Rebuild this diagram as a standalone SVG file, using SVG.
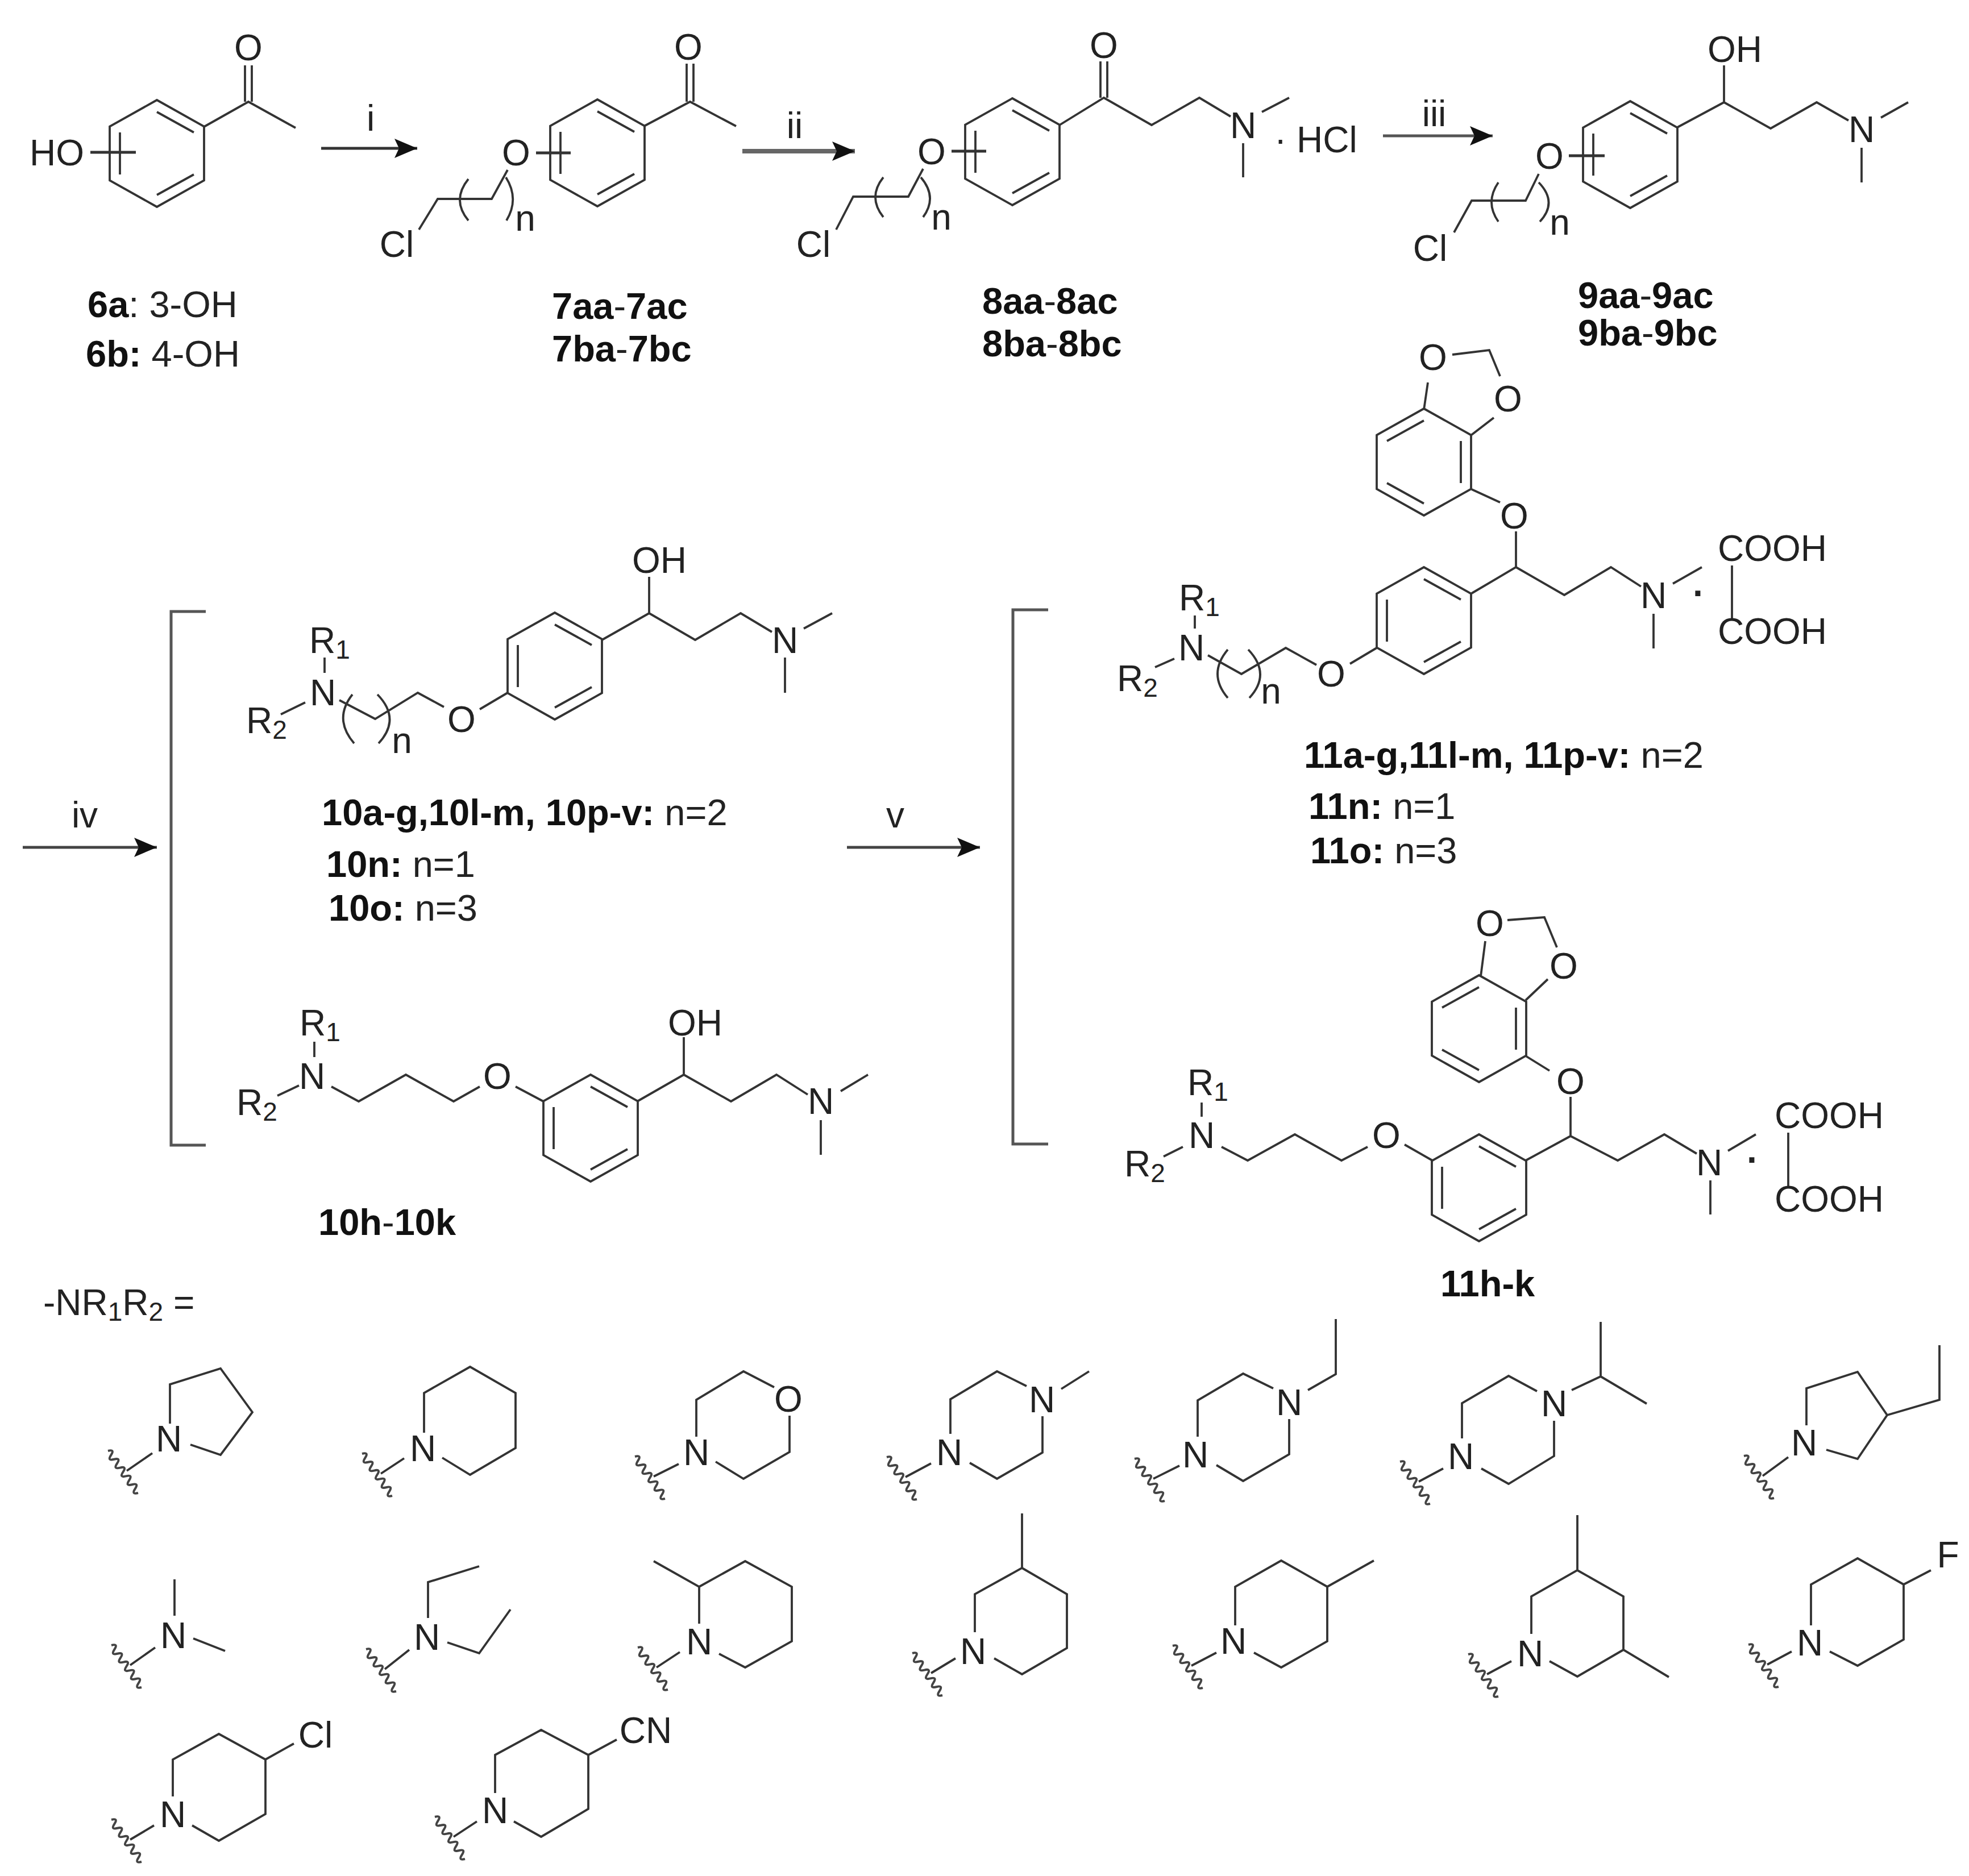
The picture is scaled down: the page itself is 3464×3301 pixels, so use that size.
<svg xmlns="http://www.w3.org/2000/svg" xmlns:xlink="http://www.w3.org/1999/xlink" width="3464" height="3301" viewBox="0 0 3464 3301">
<style>
.b{fill:none;stroke:#333;stroke-width:3.8;stroke-linejoin:miter}
.k{fill:none;stroke:#555;stroke-width:5}
.w{fill:none;stroke:#444;stroke-width:4}
.ar{fill:none;stroke:#333;stroke-width:5}
text{font-family:"Liberation Sans",Arial,sans-serif;font-size:64px;fill:#222}
.a{text-anchor:middle}
.l{font-size:65px}
.s{font-size:46px}
.t{font-weight:bold;fill:#111}
.h{stroke-width:5}
</style>
<defs>
<marker id="head" markerUnits="userSpaceOnUse" markerWidth="42" markerHeight="34" refX="40" refY="17" orient="auto"><path d="M0 0L40 17L0 34L8 17z" fill="#111"/></marker>
<g id="ringA"><path class="b" d="M0-94L83-47.500V47.500L0 94L-83 47.500V-47.500zM-65-37V37M0-73L65-37M65 37L0 73"/></g>
<g id="ringB"><path class="b" d="M0-94L83-47.500V47.500L0 94L-83 47.500V-47.500zM-65-37L0-73M65-37V37M0 73L-65 37"/></g>
<path id="wv" class="w" d="M-33-35q12.400-3.300 5.300 7.400q-7 10.700 5.300 7.400q12.400-3.300 5.300 7.400q-7 10.700 5.300 7.400q12.400-3.300 5.300 7.400q-7 10.700 5.300 7.400q12.400-3.300 5.300 7.400q-7 10.700 5.300 7.400q12.400-3.300 5.300 7.400q-7 10.700 5.300 7.400"/>
</defs>
<rect width="3464" height="3301" fill="#fff"/>

<g id="connectors">
<path class="ar" marker-end="url(#head)" d="M565 261H734"/>
<path class="ar" style="stroke:#666;stroke-width:8" marker-end="url(#head)" d="M1306 266H1504"/>
<path class="ar" style="stroke:#555" marker-end="url(#head)" d="M2433 239H2626"/>
<path class="ar" style="stroke:#444" marker-end="url(#head)" d="M40 1491H276"/>
<path class="ar" style="stroke:#444" marker-end="url(#head)" d="M1490 1491H1724"/>
<text class="a" x="652" y="230">i</text>
<text class="a" x="1398" y="243">ii</text>
<text class="a" x="2523" y="222">iii</text>
<text class="a" x="149" y="1456">iv</text>
<text class="a" x="1575" y="1456">v</text>
</g>

<g id="mol-6">
<use href="#ringA" x="276" y="270"/>
<path class="b" d="M359 223L437 179L520 225M431 115V179M443 115V179"/>
<path class="b h" d="M159 268H239"/>
<text class="a" x="437" y="106">O</text>
<text class="a" x="100" y="291">HO</text>
</g>
<g id="label-6"><text class="l" x="154" y="558"><tspan class="t">6a</tspan>: 3-OH</text><text class="l" x="151" y="645"><tspan class="t">6b:</tspan> 4-OH</text></g>

<g id="mol-7">
<use href="#ringA" x="1051" y="269"/>
<path class="b" d="M1133 222L1214 179L1295 222M1208 112V179M1220 112V179M893 299L865 350H770L737 404M824 315Q794 352 824 388M890 312Q914 350 891 388"/>
<path class="b h" d="M943 269H1004"/>
<text class="a" x="1211" y="105">O</text>
<text class="a" x="908" y="291">O</text>
<text class="a" x="698" y="452">Cl</text>
<text class="a" x="924" y="406">n</text>
</g>
<g id="label-7"><text class="l" x="971" y="561"><tspan class="t">7aa</tspan>-<tspan class="t">7ac</tspan></text><text class="l" x="971" y="636"><tspan class="t">7ba</tspan>-<tspan class="t">7bc</tspan></text></g>

<g id="mol-8">
<use href="#ringA" x="1781" y="267"/>
<path class="b" d="M1864 220L1942 172L2026 220L2110 172L2165 205M1936 108V172M1948 108V172M2220 197L2268 172M2187 252V312M1624 297L1598 346H1501L1471 404M1554 312Q1526 347 1554 382M1620 312Q1650 347 1624 382"/>
<path class="b h" d="M1674 266H1735"/>
<text class="a" x="1942" y="102">O</text>
<text class="a" x="2187" y="243">N</text>
<text x="2242" y="267">·</text>
<text x="2281" y="268">HCl</text>
<text class="a" x="1639" y="289">O</text>
<text class="a" x="1431" y="452">Cl</text>
<text class="a" x="1656" y="404">n</text>
</g>
<g id="label-8"><text class="l" x="1728" y="552"><tspan class="t">8aa</tspan>-<tspan class="t">8ac</tspan></text><text class="l" x="1728" y="627"><tspan class="t">8ba</tspan>-<tspan class="t">8bc</tspan></text></g>

<g id="mol-9">
<use href="#ringA" x="2868" y="272"/>
<path class="b" d="M2951 224L3033 180L3115 226L3196 180L3252 212M3033 115V180M3309 207L3357 180M3275 260V321M2707 306L2684 353H2589L2558 409M2636 321Q2612 356 2636 390M2707 321Q2741 356 2709 390"/>
<path class="b h" d="M2760 274H2823"/>
<text class="a" x="3052" y="109">OH</text>
<text class="a" x="3275" y="250">N</text>
<text class="a" x="2726" y="297">O</text>
<text class="a" x="2516" y="459">Cl</text>
<text class="a" x="2744" y="413">n</text>
</g>
<g id="label-9"><text class="l" x="2776" y="542"><tspan class="t">9aa</tspan>-<tspan class="t">9ac</tspan></text><text class="l" x="2776" y="608"><tspan class="t">9ba</tspan>-<tspan class="t">9bc</tspan></text></g>

<g id="bracket-10"><path class="k" d="M362 1076H301V2015H362"/></g>
<g id="mol-10-para">
<use href="#ringA" x="976" y="1172"/>
<path class="b" d="M1059 1126L1142 1079L1223 1126L1303 1079L1358 1112M1142 1015V1079M1414 1106L1464 1079M1381 1157V1219M893 1219L844 1248M781 1244L735 1219L660 1265L597 1232M571 1157V1184M494 1257L537 1236M620 1222Q586 1265 623 1308M664 1222Q706 1265 666 1308"/>
<text class="a" x="1160" y="1008">OH</text>
<text class="a" x="1381" y="1149">N</text>
<text class="a" x="812" y="1288">O</text>
<text class="a" x="568" y="1241">N</text>
<text class="a" x="580" y="1149">R<tspan class="s" dy="10">1</tspan></text>
<text class="a" x="469" y="1290">R<tspan class="s" dy="10">2</tspan></text>
<text class="a" x="707" y="1325">n</text>
</g>
<g id="label-10"><text class="l" x="566" y="1452"><tspan class="t">10a-g,10l-m, 10p-v:</tspan> n=2</text><text class="l" x="574" y="1543"><tspan class="t">10n:</tspan> n=1</text><text class="l" x="578" y="1620"><tspan class="t">10o:</tspan> n=3</text></g>

<g id="mol-10-meta">
<use href="#ringA" x="1039" y="1985"/>
<path class="b" d="M1121 1938L1203 1891L1286 1938L1366 1891L1421 1926M1203 1825V1891M1479 1920L1527 1891M1444 1971V2032M956 1938L907 1912M844 1912L798 1938L714 1891L631 1938L583 1912M553 1833V1860M488 1928L526 1910"/>
<text class="a" x="1223" y="1822">OH</text>
<text class="a" x="1444" y="1960">N</text>
<text class="a" x="875" y="1916">O</text>
<text class="a" x="549" y="1916">N</text>
<text class="a" x="563" y="1822">R<tspan class="s" dy="10">1</tspan></text>
<text class="a" x="452" y="1962">R<tspan class="s" dy="10">2</tspan></text>
</g>
<g id="label-10h"><text class="l" x="560" y="2173"><tspan class="t">10h</tspan>-<tspan class="t">10k</tspan></text></g>

<g id="bracket-11"><path class="k" d="M1844 1073H1782V2013H1844"/></g>
<g id="mol-11-para">
<use href="#ringB" x="2505" y="813"/>
<use href="#ringA" x="2505" y="1092"/>
<path class="b" d="M2505 721L2512 673M2555 624L2620 616L2639 662M2589 765L2628 735M2589 861L2639 884M2667 935V998L2589 1044M2667 998L2752 1047L2834 998L2887 1032M2943 1027L2994 998M2909 1080V1141M3047 995V1090M2422 1140L2375 1168M2316 1170L2262 1140L2184 1186L2125 1153M2102 1083V1106M2032 1174L2066 1159M2160 1143Q2124 1186 2160 1228M2196 1143Q2237 1186 2198 1228"/>
<text class="a" x="2521" y="651">O</text>
<text class="a" x="2653" y="724">O</text>
<text class="a" x="2664" y="930">O</text>
<text class="a" x="2909" y="1070">N</text>
<text x="2978" y="1066" style="font-weight:bold">·</text>
<text x="3022" y="987">COOH</text>
<text x="3022" y="1133">COOH</text>
<text class="a" x="2342" y="1208">O</text>
<text class="a" x="2096" y="1162">N</text>
<text class="a" x="2110" y="1074">R<tspan class="s" dy="10">1</tspan></text>
<text class="a" x="2001" y="1216">R<tspan class="s" dy="10">2</tspan></text>
<text class="a" x="2236" y="1238">n</text>
</g>
<g id="label-11"><text class="l" x="2294" y="1351"><tspan class="t">11a-g,11l-m, 11p-v:</tspan> n=2</text><text class="l" x="2302" y="1441"><tspan class="t">11n:</tspan> n=1</text><text class="l" x="2305" y="1519"><tspan class="t">11o:</tspan> n=3</text></g>

<g id="mol-11-meta">
<use href="#ringB" x="2602" y="1810"/>
<use href="#ringA" x="2602" y="2090"/>
<path class="b" d="M2605 1718L2613 1656M2652 1619L2717 1614L2739 1667M2684 1760L2723 1723M2684 1858L2726 1884M2763 1930V1999L2684 2042M2763 1999L2846 2042L2928 1996L2985 2030M3040 2025L3089 1996M3009 2077V2137M3146 1993V2088M2520 2042L2471 2014M2406 2018L2360 2042L2278 1996L2195 2042L2149 2018M2114 1940V1965M2047 2035L2081 2018"/>
<text class="a" x="2621" y="1647">O</text>
<text class="a" x="2751" y="1722">O</text>
<text class="a" x="2763" y="1925">O</text>
<text class="a" x="3007" y="2068">N</text>
<text x="3073" y="2063" style="font-weight:bold">·</text>
<text x="3122" y="1985">COOH</text>
<text x="3122" y="2132">COOH</text>
<text class="a" x="2439" y="2020">O</text>
<text class="a" x="2114" y="2020">N</text>
<text class="a" x="2125" y="1927">R<tspan class="s" dy="10">1</tspan></text>
<text class="a" x="2014" y="2070">R<tspan class="s" dy="10">2</tspan></text>
</g>
<g id="label-11h"><text class="l" x="2534" y="2281"><tspan class="t">11h-k</tspan></text></g>

<g id="nr-label"><text x="76" y="2314">-NR<tspan class="s" dy="10">1</tspan><tspan dy="-10">R</tspan><tspan class="s" dy="10">2</tspan><tspan dy="-10"> =</tspan></text></g>

<g id="sub-1"><use href="#wv" x="223" y="2588"/><path class="b" d="M223 2588L268 2557M299 2505V2436L388 2408L444 2485L388 2560L335 2542"/><text class="a" x="297" y="2554">N</text></g>
<g id="sub-2"><use href="#wv" x="670" y="2593"/><path class="b" d="M670 2593L711 2566M746 2521V2451L827 2405L907 2451V2548L827 2595L778 2565"/><text class="a" x="744" y="2571">N</text></g>
<g id="sub-3"><use href="#wv" x="1150" y="2598"/><path class="b" d="M1150 2598L1194 2576M1225 2528V2463L1308 2413L1362 2441M1389 2491V2555L1308 2602L1259 2572"/><text class="a" x="1225" y="2578">N</text><text class="a" x="1387" y="2484">O</text></g>
<g id="sub-4"><use href="#wv" x="1593" y="2599"/><path class="b" d="M1593 2599L1638 2575M1672 2523V2462L1754 2413L1806 2439M1867 2444L1916 2413M1834 2492V2556L1754 2602L1706 2574"/><text class="a" x="1670" y="2578">N</text><text class="a" x="1833" y="2485">N</text></g>
<g id="sub-5"><use href="#wv" x="2029" y="2602"/><path class="b" d="M2029 2602L2075 2579M2107 2528V2464L2187 2417L2240 2443M2301 2446L2350 2418V2321M2268 2497V2559L2187 2606L2140 2578"/><text class="a" x="2103" y="2582">N</text><text class="a" x="2268" y="2490">N</text></g>
<g id="sub-6"><use href="#wv" x="2496" y="2607"/><path class="b" d="M2496 2607L2539 2584M2572 2531V2469L2654 2421L2704 2448M2765 2446L2816 2422V2326M2816 2422L2897 2470M2734 2500V2562L2654 2611L2606 2584"/><text class="a" x="2570" y="2585">N</text><text class="a" x="2734" y="2492">N</text></g>
<g id="sub-7"><use href="#wv" x="3101" y="2597"/><path class="b" d="M3101 2597L3146 2564M3178 2508V2443L3268 2414L3320 2490L3268 2567L3213 2551M3320 2490L3412 2463V2367"/><text class="a" x="3174" y="2561">N</text></g>

<g id="sub-8"><use href="#wv" x="229" y="2930"/><path class="b" d="M229 2930L273 2899M307 2779V2843M340 2883L396 2905"/><text class="a" x="305" y="2900">N</text></g>
<g id="sub-9"><use href="#wv" x="677" y="2937"/><path class="b" d="M677 2937L720 2903M753 2847V2784L843 2756M787 2890L843 2909L898 2832"/><text class="a" x="751" y="2903">N</text></g>
<g id="sub-10"><use href="#wv" x="1155" y="2934"/><path class="b" d="M1155 2934L1196 2907M1230 2857V2792L1150 2747M1230 2792L1311 2747L1393 2792V2888L1311 2934L1265 2910"/><text class="a" x="1230" y="2911">N</text></g>
<g id="sub-11"><use href="#wv" x="1638" y="2944"/><path class="b" d="M1638 2944L1681 2918M1715 2872V2805L1798 2759V2663M1798 2759L1877 2805V2900L1798 2946L1749 2918"/><text class="a" x="1712" y="2928">N</text></g>
<g id="sub-12"><use href="#wv" x="2096" y="2931"/><path class="b" d="M2096 2931L2140 2908M2173 2860V2792L2254 2746L2335 2792L2417 2746M2335 2792V2888L2254 2934L2206 2908"/><text class="a" x="2170" y="2910">N</text></g>
<g id="sub-13"><use href="#wv" x="2616" y="2946"/><path class="b" d="M2616 2946L2659 2923M2694 2875V2809L2775 2763V2666M2775 2763L2856 2809V2903L2936 2951M2856 2903L2775 2950L2726 2923"/><text class="a" x="2692" y="2932">N</text></g>
<g id="sub-14"><use href="#wv" x="3109" y="2929"/><path class="b" d="M3109 2929L3152 2906M3186 2860V2788L3268 2742L3349 2788L3397 2763M3349 2788V2885L3268 2931L3219 2906"/><text class="a" x="3184" y="2913">N</text><text class="a" x="3427" y="2758">F</text></g>
<g id="sub-15"><use href="#wv" x="229" y="3237"/><path class="b" d="M229 3237L271 3212M304 3161V3096L385 3051L467 3096L517 3068M467 3096V3192L385 3239L338 3212"/><text class="a" x="304" y="3215">N</text><text class="a" x="555" y="3075">Cl</text></g>
<g id="sub-16"><use href="#wv" x="798" y="3232"/><path class="b" d="M798 3232L839 3205M871 3155V3088L952 3044L1035 3088L1085 3061M1035 3088V3183L952 3232L904 3205"/><text class="a" x="871" y="3208">N</text><text class="a" x="1136" y="3067">CN</text></g>
</svg>
